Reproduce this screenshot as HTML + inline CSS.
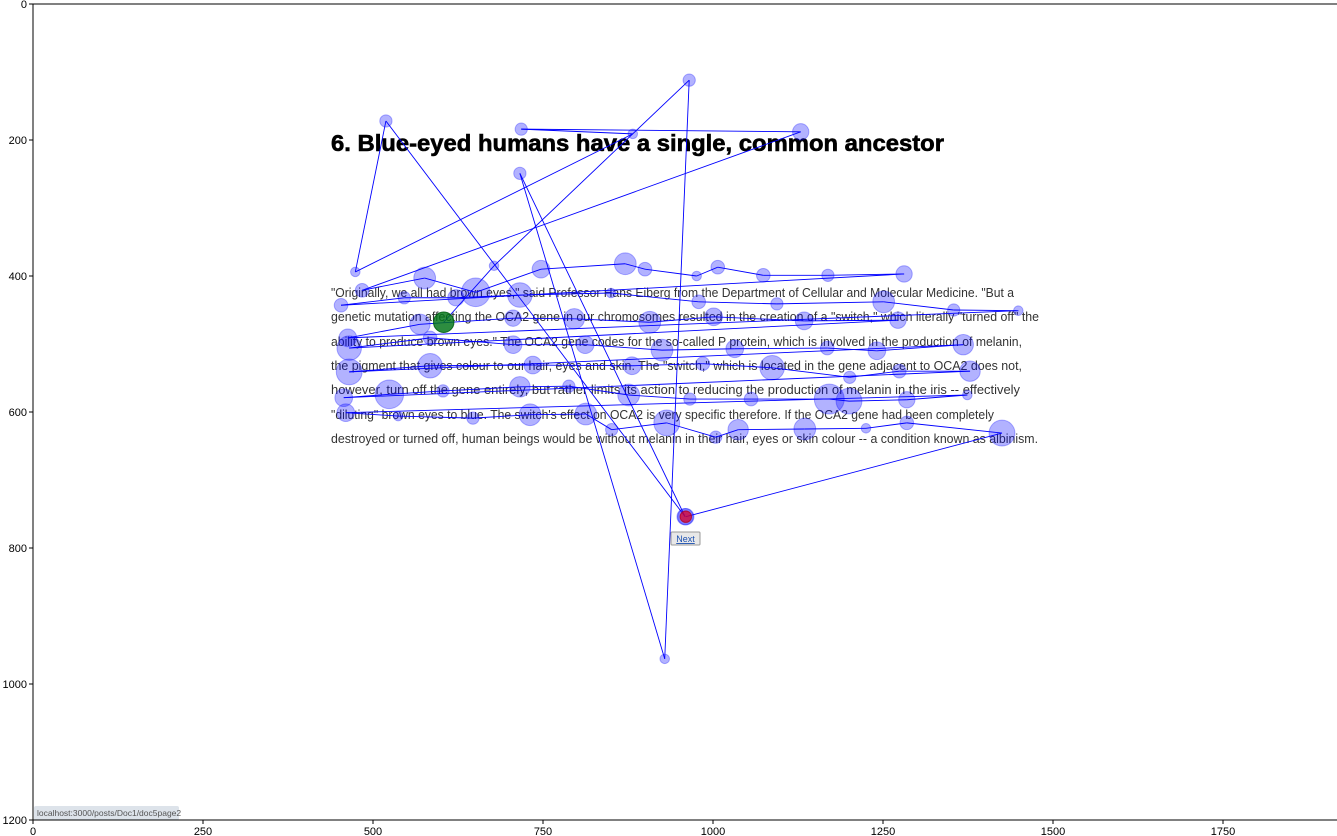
<!DOCTYPE html>
<html><head><meta charset="utf-8"><style>
html,body{margin:0;padding:0;background:#fff;width:1337px;height:836px;overflow:hidden}
svg{display:block;font-family:"Liberation Sans","DejaVu Sans",sans-serif}
</style></head><body>
<svg id="chart" width="1337" height="836" viewBox="0 0 1337 836" xmlns="http://www.w3.org/2000/svg">
<g id="page">
<text x="331" y="151" font-size="23" font-weight="bold" fill="#000" stroke="#000" stroke-width="0.6" textLength="613" lengthAdjust="spacingAndGlyphs">6. Blue-eyed humans have a single, common ancestor</text>
<g font-size="12.5" fill="#333">
<text x="331" y="297" textLength="683" lengthAdjust="spacingAndGlyphs">"Originally, we all had brown eyes," said Professor Hans Eiberg from the Department of Cellular and Molecular Medicine. "But a</text>
<text x="331" y="321" textLength="708" lengthAdjust="spacingAndGlyphs">genetic mutation affecting the OCA2 gene in our chromosomes resulted in the creation of a "switch," which literally "turned off" the</text>
<text x="331" y="346" textLength="691" lengthAdjust="spacingAndGlyphs">ability to produce brown eyes." The OCA2 gene codes for the so-called P protein, which is involved in the production of melanin,</text>
<text x="331" y="370" textLength="691" lengthAdjust="spacingAndGlyphs">the pigment that gives colour to our hair, eyes and skin. The "switch," which is located in the gene adjacent to OCA2 does not,</text>
<text x="331" y="394" textLength="689" lengthAdjust="spacingAndGlyphs">however, turn off the gene entirely, but rather limits its action to reducing the production of melanin in the iris -- effectively</text>
<text x="331" y="419" textLength="663" lengthAdjust="spacingAndGlyphs">"diluting" brown eyes to blue. The switch's effect on OCA2 is very specific therefore. If the OCA2 gene had been completely</text>
<text x="331" y="443" textLength="707" lengthAdjust="spacingAndGlyphs">destroyed or turned off, human beings would be without melanin in their hair, eyes or skin colour -- a condition known as albinism.</text>
</g>
<g>
<rect x="671" y="532" width="29" height="13" fill="#e8e8e8" stroke="#999" stroke-width="1" rx="1"/>
<text x="685.5" y="542" font-size="9" fill="#1a4fb0" text-anchor="middle" text-decoration="underline">Next</text>
</g>
<g>
<rect x="34" y="806" width="145" height="14" fill="#dde3ea" rx="2"/>
<text x="37" y="816" font-size="8.5" fill="#555">localhost:3000/posts/Doc1/doc5page2</text>
</g>
</g>
<g id="marks"></g>
<g id="axes"></g>
</svg>
<script>
const xs=[604,678,965,929,716,959,519,474,882,718,1129,484,576,651,747,871,900,976,1007,1074,1169,1281,
453,546,622,716,850,979,1094,1251,1354,1449,
463,569,706,796,907,1001,1134,1272,
465,584,706,812,925,1032,1168,1241,1368,
465,584,735,881,985,1087,1201,1274,1378,
457,524,603,716,788,876,966,1056,1171,1200,1285,1374,
460,537,647,731,813,851,932,1004,1037,1135,1225,1285,1425,960];
const ys=[468,385,112,963,249,754,172,394,191,184,188,421,403,424,390,382,390,400,387,399,399,397,
443,432,432,428,425,438,441,438,450,451,
491,471,462,463,468,460,466,465,
506,491,501,501,509,507,506,510,501,
541,532,531,532,529,535,549,540,540,
579,574,569,563,562,575,581,581,581,584,582,575,
601,606,609,604,603,626,616,637,626,625,624,616,631,754];
const sizes=[15,7,9,7,9,12,9,7,7,9,12,10,16,21,13,16,10,7,10,10,9,12,
10,9,12,18,7,10,9,16,9,7,
13,15,12,15,16,13,13,12,
18,10,13,13,16,13,10,13,15,
19,18,13,13,10,18,9,10,15,
13,21,9,15,9,16,9,10,22,19,12,7,
13,7,9,16,16,9,19,9,15,16,7,10,19,12];
const xTicks=[0,250,500,750,1000,1250,1500,1750];
const yTicks=[0,200,400,600,800,1000,1200];
const X0=33,Y0=4,S=0.68,XMAX=1920,YMAX=1200;
const sx=v=>X0+v*S, sy=v=>Y0+v*S;
const NS="http://www.w3.org/2000/svg";
const marks=document.getElementById('marks');
function mk(tag,attrs,parent){const e=document.createElementNS(NS,tag);for(const k in attrs)e.setAttribute(k,attrs[k]);parent.appendChild(e);return e;}
const n=xs.length;
for(let i=0;i<n;i++){
  const c=mk('circle',{cx:sx(xs[i]),cy:sy(ys[i]),r:sizes[i]*S,fill:'rgba(0,0,255,0.3)',stroke:'rgba(0,0,255,0.3)','stroke-width':1},marks);
  
  
}
for(let i=0;i<n-1;i++){
  const l=mk('line',{x1:sx(xs[i]),y1:sy(ys[i]),x2:sx(xs[i+1]),y2:sy(ys[i+1]),stroke:'#0000ff','stroke-width':0.9},marks);
  
  
}
const first=mk('circle',{cx:sx(xs[0]),cy:sy(ys[0]),r:sizes[0]*S,fill:'rgba(0,128,0,0.75)',stroke:'rgba(0,100,0,0.8)'},marks);


const last=mk('circle',{cx:sx(xs[n-1]),cy:sy(ys[n-1]),r:sizes[n-1]*S*0.7,fill:'rgba(220,0,40,0.75)',stroke:'rgba(180,0,30,0.8)'},marks);


const ax=document.getElementById('axes');
const frame=mk('rect',{x:X0,y:Y0,width:XMAX*S,height:YMAX*S,fill:'none',stroke:'#000','stroke-width':1},ax);


xTicks.forEach(t=>{
  mk('line',{x1:sx(t),y1:sy(YMAX),x2:sx(t),y2:sy(YMAX)+4,stroke:'#000'},ax);
  const tx=mk('text',{x:sx(t),y:sy(YMAX)+15,'font-size':11,'text-anchor':'middle',fill:'#000'},ax);
  tx.textContent=t;
  
  
});
yTicks.forEach(t=>{
  mk('line',{x1:X0-4,y1:sy(t),x2:X0,y2:sy(t),stroke:'#000'},ax);
  const tx=mk('text',{x:X0-6,y:sy(t)+4,'font-size':11,'text-anchor':'end',fill:'#000'},ax);
  tx.textContent=t;
  
  
});
</script>
</body></html>
